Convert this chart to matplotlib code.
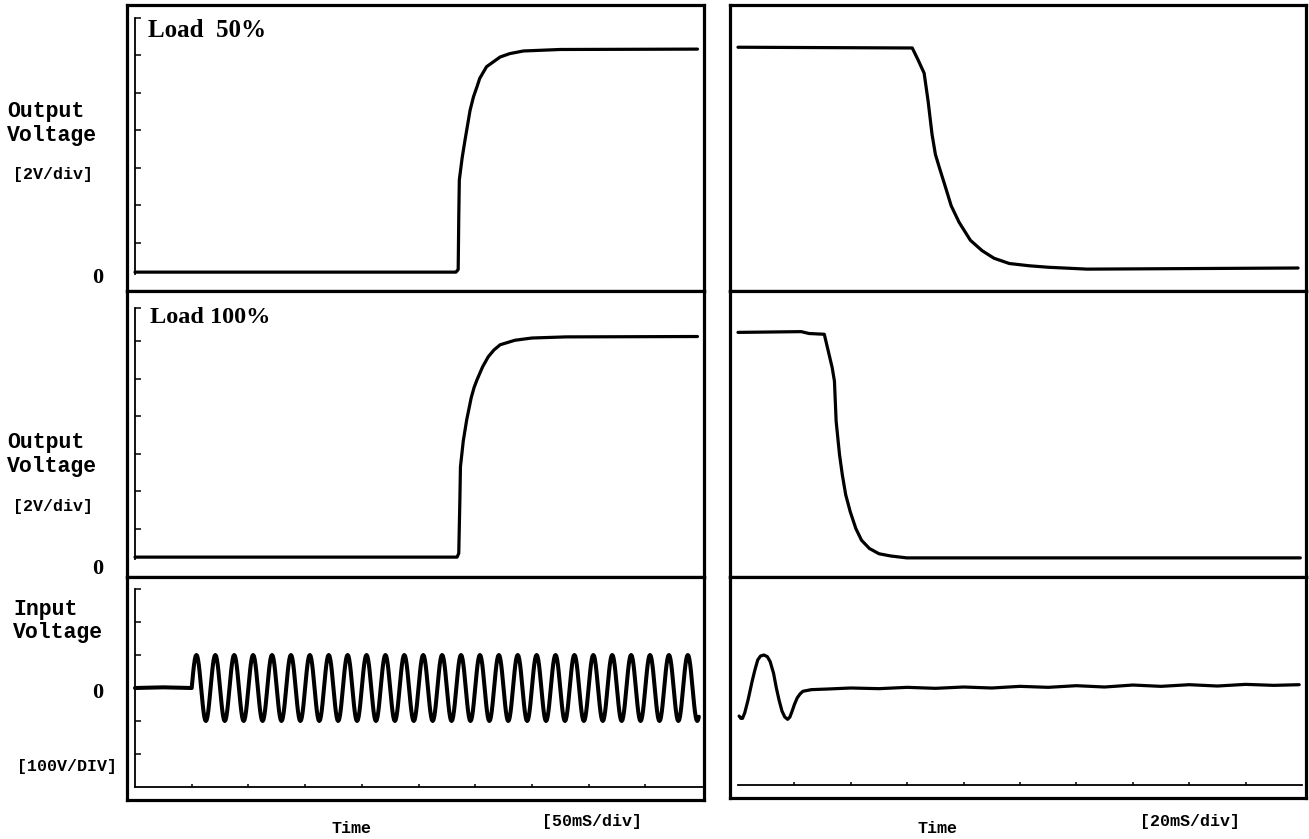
import numpy as np
import matplotlib
matplotlib.use("Agg")
import matplotlib.pyplot as plt

W, H = 1309, 839

# values are in scope divisions (x: time div, y: volt div)
load50_t = [0.0, 5.66, 5.70, 5.71, 5.72, 5.77, 5.82, 5.91, 5.97, 6.03, 6.08, 6.20, 6.32, 6.44, 6.61, 6.85, 7.5, 9.92]
load50_v = [0.05, 0.05, 0.12, 1.5, 2.51, 3.1, 3.57, 4.37, 4.73, 4.99, 5.22, 5.53, 5.66, 5.79, 5.88, 5.95, 5.99, 6.0]

load100_t = [0.0, 5.68, 5.71, 5.73, 5.74, 5.79, 5.85, 5.93, 5.98, 6.03, 6.13, 6.23, 6.33, 6.44, 6.7, 7.0, 7.6, 9.92]
load100_v = [0.05, 0.05, 0.15, 1.6, 2.46, 3.15, 3.71, 4.3, 4.57, 4.77, 5.12, 5.39, 5.57, 5.71, 5.83, 5.89, 5.92, 5.93]

drop50_t = [0.0, 3.09, 3.19, 3.30, 3.37, 3.44, 3.50, 3.57, 3.68, 3.78, 3.92, 4.12, 4.33, 4.54, 4.81,
            5.16, 5.50, 6.19, 9.93]
drop50_v = [6.05, 6.03, 5.72, 5.36, 4.62, 3.73, 3.19, 2.84, 2.31, 1.82, 1.38, 0.90, 0.62, 0.42, 0.28,
            0.22, 0.18, 0.13, 0.16]

drop100_t = [0.0, 1.12, 1.26, 1.53, 1.67, 1.71, 1.74, 1.80, 1.85, 1.91, 1.99, 2.09, 2.19, 2.33, 2.50,
             2.71, 2.99, 9.97]
drop100_v = [6.04, 6.06, 6.01, 5.99, 5.10, 4.74, 3.67, 2.78, 2.24, 1.71, 1.26, 0.81, 0.50, 0.28, 0.14,
             0.08, 0.03, 0.03]

# input voltage: flat, then a 60 Hz sine (one period = 1/3 div at 50 mS/div)
input_flat_t = [0.0, 0.5, 1.0]
input_flat_v = [0.0, 0.02, 0.0]
input_cycle = [0.0, 0.26, 0.5, 0.71, 0.87, 0.97, 1.0, 0.97, 0.87, 0.71, 0.5, 0.26,
               0.0, -0.26, -0.5, -0.71, -0.87, -0.97, -1.0, -0.97, -0.87, -0.71, -0.5, -0.26]
input_start = 1.0
input_period = 1 / 3
input_cycles = 27
input_stop = 9.95

# input voltage after the switch (20 mS/div)
recover_t = [0.02, 0.05, 0.08, 0.12, 0.18, 0.25, 0.30, 0.35, 0.40, 0.46, 0.52, 0.57, 0.63, 0.68, 0.73,
             0.78, 0.83, 0.88, 0.92, 0.96, 1.0, 1.05, 1.1, 1.15, 1.3, 1.6,
             2.0, 2.5, 3.0, 3.5, 4.0, 4.5, 5.0, 5.5, 6.0, 6.5, 7.0, 7.5, 8.0, 8.5, 9.0, 9.5, 9.95]
recover_v = [-0.85, -0.92, -0.92, -0.75, -0.35, 0.2, 0.55, 0.85, 0.97, 1.0, 0.95, 0.8, 0.45, 0.0, -0.38,
             -0.7, -0.88, -0.95, -0.88, -0.7, -0.5, -0.3, -0.18, -0.1, -0.05, -0.03,
             0.0, -0.02, 0.02, -0.01, 0.03, 0.0, 0.05, 0.02, 0.07, 0.03, 0.09, 0.05, 0.1, 0.06, 0.11, 0.08, 0.1]

fig = plt.figure(figsize=(W / 100, H / 100), dpi=100)


def px_axes(x0, x1, ytop, ybot):
    return fig.add_axes([x0 / W, 1 - ybot / H, (x1 - x0) / W, (ybot - ytop) / H])


def px_text(x, y, s, **kw):
    fig.text(x / W, 1 - y / H, s, **kw)


# outer frames, one box per panel
rows_left = [(5, 291), (291, 577), (577, 800)]
rows_right = [(5, 291), (291, 577), (577, 798)]
for (x0, x1), rows in [((127, 704), rows_left), ((730, 1306), rows_right)]:
    for yt, yb in rows:
        box = px_axes(x0, x1, yt, yb)
        box.set_xticks([])
        box.set_yticks([])
        for s in box.spines.values():
            s.set_linewidth(2.3)


def scope_axes(x0, x1, ytop, ybot, ylim, yticks=None, xticks=None):
    ax = px_axes(x0, x1, ytop, ybot)
    ax.set_xlim(0, 10)
    ax.set_ylim(*ylim)
    ax.patch.set_visible(False)
    for s in ["top", "right", "left", "bottom"]:
        ax.spines[s].set_visible(False)
        ax.spines[s].set_linewidth(1.3)
    if yticks is not None:
        ax.spines["left"].set_visible(True)
        ax.set_yticks(yticks)
    else:
        ax.set_yticks([])
    if xticks is not None:
        ax.spines["bottom"].set_visible(True)
        ax.set_xticks(xticks)
    else:
        ax.set_xticks([])
    ax.tick_params(direction="in", labelleft=False, labelbottom=False, width=1.1)
    ax.tick_params(axis="y", length=4.5)
    ax.tick_params(axis="x", length=2.5)
    return ax


top_ticks = [0.83 + k for k in range(7)]
mid_ticks = [0.8 + k for k in range(6)] + [6.69]
in_ticks = [-2, -1, 0, 1, 2, 3]
time_ticks = list(range(1, 10))

ax_tl = scope_axes(135, 702, 18, 274, (0, 6.83), yticks=top_ticks)
ax_ml = scope_axes(135, 702, 308, 559, (0, 6.69), yticks=mid_ticks)
ax_bl = scope_axes(135, 702, 589, 787, (-3, 3), yticks=in_ticks, xticks=time_ticks)
ax_tr = scope_axes(738, 1302, 18, 274, (0, 6.83))
ax_mr = scope_axes(738, 1302, 308, 559, (0, 6.69))
ax_br = scope_axes(738, 1302, 589, 785, (-97 / 33, 3), xticks=time_ticks)

lw = 2.3
line_kw = dict(color="black", clip_on=False, solid_joinstyle="round", solid_capstyle="round")
ax_tl.plot(load50_t, load50_v, lw=lw, **line_kw)
ax_ml.plot(load100_t, load100_v, lw=lw, **line_kw)
ax_tr.plot(drop50_t, drop50_v, lw=lw, **line_kw)
ax_mr.plot(drop100_t, drop100_v, lw=lw, **line_kw)

sine_v = np.tile(input_cycle, input_cycles)
sine_t = input_start + np.arange(len(sine_v)) * input_period / len(input_cycle)
keep = sine_t <= input_stop
in_t = np.concatenate([input_flat_t, sine_t[keep]])
in_v = np.concatenate([input_flat_v, sine_v[keep]])
ax_bl.plot(in_t, in_v, lw=2.9, **line_kw)
ax_br.plot(recover_t, recover_v, lw=2.3, **line_kw)

# texts
mono = dict(family="Liberation Mono", weight="bold", color="black")
serif = dict(family="Liberation Serif", weight="bold", color="black")

px_text(148, 37, "Load  50%", fontsize=18, va="baseline", **serif)
px_text(150, 323, "Load 100%", fontsize=17.5, va="baseline", **serif)

px_text(7, 117, "Output", fontsize=15.5, va="baseline", **mono)
px_text(7, 141, "Voltage", fontsize=15.5, va="baseline", **mono)
px_text(13, 179, "[2V/div]", fontsize=12, va="baseline", **mono)
px_text(98, 283, "0", fontsize=16, va="baseline", ha="center", **serif)

px_text(7, 448, "Output", fontsize=15.5, va="baseline", **mono)
px_text(7, 472, "Voltage", fontsize=15.5, va="baseline", **mono)
px_text(13, 511, "[2V/div]", fontsize=12, va="baseline", **mono)
px_text(98, 574, "0", fontsize=16, va="baseline", ha="center", **serif)

px_text(13, 615, "Input", fontsize=15.5, va="baseline", **mono)
px_text(13, 638, "Voltage", fontsize=15.5, va="baseline", **mono)
px_text(98, 698, "0", fontsize=16, va="baseline", ha="center", **serif)
px_text(17, 771, "[100V/DIV]", fontsize=12, va="baseline", **mono)

px_text(352, 833, "Time", fontsize=12, va="baseline", ha="center", **mono)
px_text(592, 826, "[50mS/div]", fontsize=12, va="baseline", ha="center", **mono)
px_text(937, 833, "Time", fontsize=12, va="baseline", ha="center", **mono)
px_text(1190, 826, "[20mS/div]", fontsize=12, va="baseline", ha="center", **mono)

fig.savefig("out.png", dpi=100, facecolor="white")
